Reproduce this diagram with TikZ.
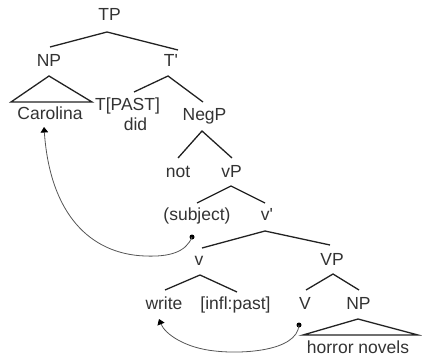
\documentclass[tikz,border=0pt]{standalone}
\usepackage{fontspec}
\setmainfont{Liberation Sans}
\usetikzlibrary{arrows.meta}
\definecolor{ink}{HTML}{222222}
\definecolor{label}{HTML}{333333}
\definecolor{movement}{HTML}{555555}
\begin{document}
\begin{tikzpicture}[x=1pt,y=-1pt,
  lbl/.style={anchor=base,inner sep=0pt,text=label,
    font=\fontsize{17.5}{20}\selectfont},
  branch/.style={draw=ink,line width=1.3pt},
  roof/.style={draw=ink,line width=1.3pt,line join=miter},
  move/.style={draw=movement,line width=0.8pt,
    -{Triangle[width=7.5pt,length=5.5pt,color=black,fill=black]}},
  trace/.style={circle,fill=black,inner sep=0pt,minimum size=5pt}]
\useasboundingbox (0,0) rectangle (422,358);

% labels, placed on their baselines
\node[lbl] (TP)     at (109.5,21) {TP};
\node[lbl] (NP)     at (49,67)    {NP};
\node[lbl] (Tbar)   at (171,67)   {T\textquotesingle};
\node[lbl] (Car)    at (50,120)   {Carolina};
\node[lbl] (T)      at (127.5,111){T[PAST]};
\node[lbl] (did)    at (135.5,131){did};
\node[lbl] (NegP)   at (204.5,121){NegP};
\node[lbl] (not)    at (178,177)  {not};
\node[lbl] (vP)     at (231.5,177){vP};
\node[lbl] (subj)   at (197,220)  {(subject)};
\node[lbl] (vbar)   at (267,220)  {v\textquotesingle};
\node[lbl] (v)      at (199,265)  {v};
\node[lbl] (VP)     at (332,265)  {VP};
\node[lbl] (write)  at (164,309)  {write};
\node[lbl] (infl)   at (235.5,309){[infl:past]};
\node[lbl] (V)      at (305,309)  {V};
\node[lbl] (NPobj)  at (358.5,309){NP};
\node[lbl] (hn)     at (358,353)  {horror novels};

% branches
\draw[branch] ([shift={(1,-20)}]NP.base) -- ([shift={(-2.5,11)}]TP.base)
              -- ([shift={(7,-17)}]Tbar.base);
\draw[branch] ([shift={(6.5,-19)}]T.base) -- ([shift={(-3,9)}]Tbar.base)
              -- ([shift={(-1.5,-19)}]NegP.base);
\draw[branch] ([shift={(0,-19)}]not.base) -- ([shift={(-2.5,10)}]NegP.base)
              -- ([shift={(0.5,-19)}]vP.base);
\draw[branch] ([shift={(0,-17)}]subj.base) -- ([shift={(-0.5,9)}]vP.base)
              -- ([shift={(-2,-17)}]vbar.base);
\draw[branch] ([shift={(3,-17)}]v.base) -- ([shift={(-2,11)}]vbar.base)
              -- ([shift={(-2,-20)}]VP.base);
\draw[branch] ([shift={(1,-19)}]write.base) -- ([shift={(1,10)}]v.base)
              -- ([shift={(1.5,-17)}]infl.base);
\draw[branch] ([shift={(1,-19)}]V.base) -- ([shift={(1,9)}]VP.base)
              -- ([shift={(0.5,-19)}]NPobj.base);

% roofs over unanalysed phrases
\draw[roof] ([shift={(-39,-18)}]Car.base) -- ([shift={(0,9)}]NP.base)
            -- ([shift={(42,-18)}]Car.base) -- cycle;
\draw[roof] ([shift={(-55,-18)}]hn.base) -- ([shift={(-0.5,10)}]NPobj.base)
            -- ([shift={(60,-18)}]hn.base) -- cycle;

% traces and movement arrows
\node[trace] (t1) at ([shift={(-7,-28)}]v.base) {};
\node[trace] (t2) at ([shift={(-6,16)}]V.base) {};
\draw[move] (t1.center) .. controls +(-6,15) and +(25,1) .. (145,256)
            .. controls +(-55,-2) and +(6,87) .. ([shift={(-6,7)}]Car.base);
\draw[move] (t2.center) .. controls +(-2,27) and +(25,3) .. (215,351)
            .. controls +(-30,-3) and +(6,15) .. ([shift={(-5,10)}]write.base);
\end{tikzpicture}
\end{document}
